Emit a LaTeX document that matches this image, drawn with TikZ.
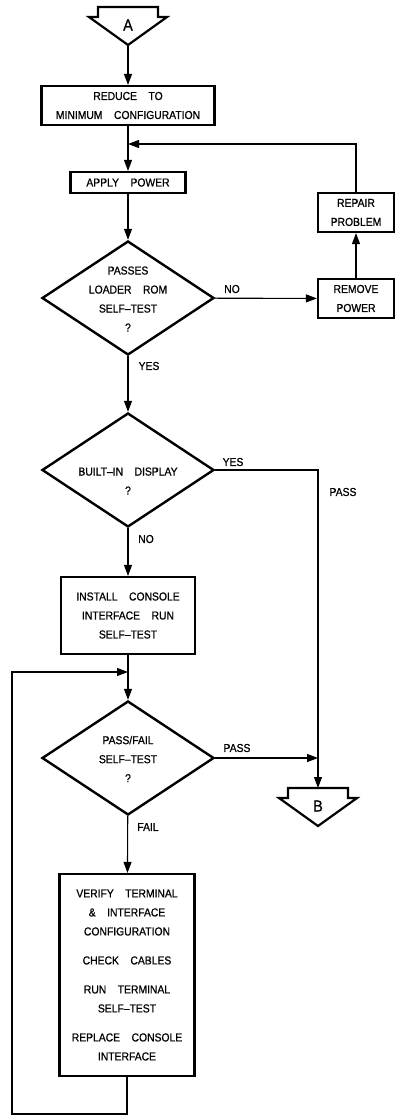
\documentclass[tikz,border=0pt]{standalone}
\usepackage{fontspec}
\setmainfont{Liberation Sans}[WordSpace=4,FakeStretch=0.9,FakeBold=0.8]
\usetikzlibrary{arrows.meta,shapes.geometric,calc}
\newcommand{\offpage}[3]{%
  \draw[outline] (#2) ++(-30,0) -- ++(60,0) -- ++(0,10) -- ++(9,0) -- ++(-39,28) -- ++(-39,-28) -- ++(9,0) -- cycle;
  \node[txt,font=\fontsize{16}{16}\selectfont] (#1) at ($(#2)+(0,18)$) {#3};
  \coordinate (#1-top) at (#2);
  \coordinate (#1-tip) at ($(#2)+(0,38)$);
}

\begin{document}
\begin{tikzpicture}[x=1pt,y=-1pt,>={Triangle[length=11pt,width=8pt]},
  every node/.style={font=\fontsize{11.5}{19}\selectfont},
  outline/.style={line width=2.2pt,line join=miter},
  box/.style={draw,rectangle,line width=2.2pt,inner sep=0pt,align=center},
  dia/.style={draw,diamond,line width=2.4pt,inner sep=0pt,minimum width=172pt,minimum height=114pt},
  txt/.style={inner sep=0pt,align=center},
  conn/.style={line width=1.1pt}]
\useasboundingbox (0,0) rectangle (395,1119);
\offpage{A}{128,7}{A}
\node[box,minimum width=173pt,minimum height=39pt] (reduce) at (128,105.5) {REDUCE TO\\MINIMUM CONFIGURATION};
\coordinate (j1) at (128,144);
\node[box,minimum width=115pt,minimum height=21pt] (apply) at (128,182.5) {APPLY POWER};
\node[dia] (d1) at (128,298) {};
\node[txt] (d1t) at (128,299) {PASSES\\LOADER ROM\\SELF--TEST\\?};
\node[box,minimum width=76pt,minimum height=39pt] (remove) at (356,298.5) {REMOVE\\POWER};
\node[box,minimum width=76pt,minimum height=39pt] (repair) at (356,212.5) {REPAIR\\PROBLEM};
\node[dia] (d2) at (128,470) {};
\node[txt] (d2t) at (128,481) {BUILT--IN DISPLAY\\?};
\node[box,minimum width=134pt,minimum height=77pt] (install) at (128,615.5) {INSTALL CONSOLE\\INTERFACE RUN\\SELF--TEST};
\coordinate (j2) at (128,672);
\node[dia] (d3) at (128,758) {};
\node[txt] (d3t) at (128,759) {PASS/FAIL\\SELF--TEST\\?};
\offpage{B}{318,788}{B}
\node[box,minimum width=135pt,minimum height=202pt] (verify) at (127,975) {VERIFY TERMINAL\\\& INTERFACE\\CONFIGURATION\\[10pt]CHECK CABLES\\[10pt]RUN TERMINAL\\SELF--TEST\\[10pt]REPLACE CONSOLE\\INTERFACE};
\coordinate (loop) at (12,1114);
\node[txt] (no1) at (232,289) {NO};
\node[txt] (yes1) at (149,366) {YES};
\node[txt] (yes2) at (233,462) {YES};
\node[txt] (pass1) at (343,492) {PASS};
\node[txt] (no2) at (146,539) {NO};
\node[txt] (pass2) at (237,748) {PASS};
\node[txt] (fail) at (148,827) {FAIL};
\draw[conn,->] (A-tip) -- (reduce);
\draw[conn] (reduce) -- (j1);
\draw[conn,->] (j1) -- (apply);
\draw[conn,->] (repair) |- (j1);
\draw[conn,->] (apply) -- (d1);
\draw[conn,->] (d1) -- (remove);
\draw[conn,->] (remove) -- (repair);
\draw[conn,->] (d1) -- (d2);
\draw[conn,->] (d2.east) -| (B-top);
\draw[conn,->] (d2) -- (install);
\draw[conn] (install) -- (j2);
\draw[conn,->] (j2) -- (d3);
\draw[conn,->] (d3.east) -- (d3.east -| B-top);
\draw[conn,->] (d3) -- (verify);
\draw[conn,->] (verify.south) |- (loop) |- (j2);
\end{tikzpicture}
\end{document}
